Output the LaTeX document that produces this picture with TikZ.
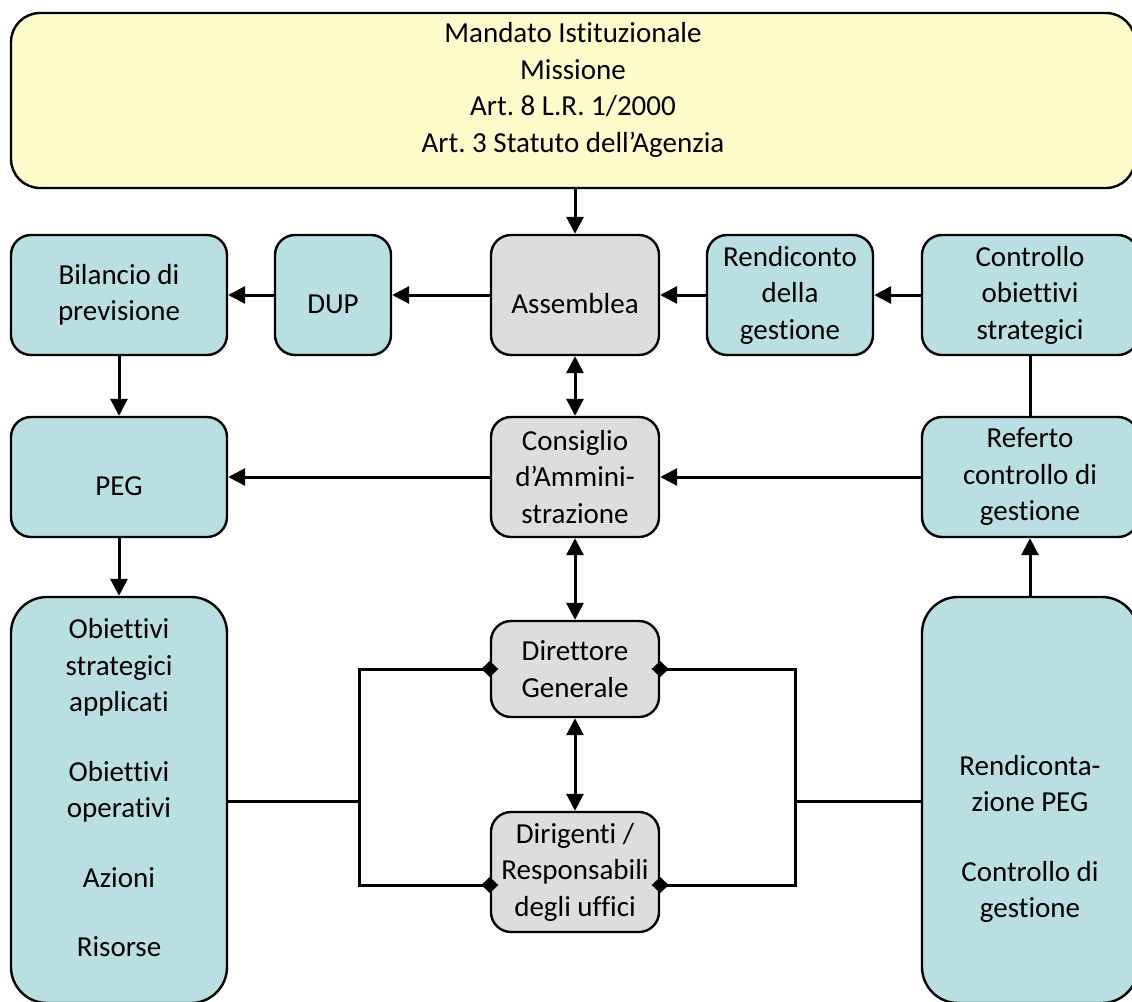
\documentclass[tikz,border=0pt]{standalone}
\usepackage{fontspec}
\setmainfont{Carlito}[Ligatures=CommonOff]
\usetikzlibrary{arrows.meta,calc}
\definecolor{ylw}{RGB}{255,252,204}
\definecolor{tealbg}{RGB}{185,223,227}
\definecolor{gry}{RGB}{221,221,221}
\frenchspacing
\begin{document}
\begin{tikzpicture}[x=1pt,y=-1pt,
  bfont/.style={font=\fontsize{29}{36.5}\selectfont},
  box/.style={draw=black,line width=2.4pt,rounded corners=20pt,align=center,bfont,inner sep=0pt},
  tealbox/.style={box,fill=tealbg},
  graybox/.style={box,fill=gry},
  txt/.style={align=center,bfont,inner sep=0pt},
  ln/.style={line width=3pt},
  arr/.style={ln,-{Triangle[length=17pt,width=17pt]}},
  darr/.style={ln,{Triangle[length=17pt,width=17pt]}-{Triangle[length=17pt,width=17pt]}},
  dia/.style={ln,-{Diamond[length=17pt,width=16pt]},shorten >=-8.5pt}]
\useasboundingbox (0,0) rectangle (1132,1001);
\clip (0,0) rectangle (1132,1001);
\fill[white] (0,0) rectangle (1132,1001);

% boxes
\node[box,fill=ylw,rounded corners=29pt,minimum width=1124pt,minimum height=175pt] (top) at (573,100.5) {};
\node[txt] (toptxt) at (573,90) {Mandato Istituzionale\\Missione\\Art. 8 L.R. 1/2000\\Art. 3 Statuto dell’Agenzia};

\node[tealbox,minimum width=216pt,minimum height=120pt] (bil) at (119,295) {Bilancio di\\previsione};
\node[tealbox,minimum width=116pt,minimum height=120pt] (dup) at (333,295) {\mbox{}\\DUP};
\node[graybox,minimum width=168pt,minimum height=120pt] (ass) at (575,295) {\mbox{}\\Assemblea};
\node[tealbox,minimum width=166pt,minimum height=120pt] (ren) at (790,295) {Rendiconto\\della\\gestione};
\node[tealbox,minimum width=216pt,minimum height=120pt] (con) at (1030,295) {Controllo\\obiettivi\\strategici};

\node[tealbox,minimum width=216pt,minimum height=120pt] (peg) at (119,477) {\mbox{}\\PEG};
\node[graybox,minimum width=168pt,minimum height=120pt] (cda) at (575,477) {Consiglio\\d’Ammini-\\strazione};
\node[tealbox,minimum width=216pt,minimum height=120pt] (ref) at (1030,477) {Referto\\controllo di\\gestione};

\node[tealbox,rounded corners=36pt,minimum width=216pt,minimum height=406pt] (obi) at (119,800) {};
\node[txt] (obitxt) at (119,788) {Obiettivi\\strategici\\applicati\\[33pt]Obiettivi\\operativi\\[33pt]Azioni\\[33pt]Risorse};
\node[tealbox,rounded corners=36pt,minimum width=216pt,minimum height=406pt] (rpeg) at (1030,800) {};
\node[txt] (rpegtxt) at (1030,839) {Rendiconta-\\zione PEG\\[33pt]Controllo di\\gestione};

\node[graybox,minimum width=168pt,minimum height=96pt] (dir) at (575,669) {Direttore\\Generale};
\node[graybox,minimum width=168pt,minimum height=120pt] (dirig) at (575,872) {Dirigenti /\\Responsabili\\degli uffici};

% connectors
\draw[arr] (top.south -| ass.north) -- (ass.north);
\draw[arr] (ass.west) -- (dup.east);
\draw[arr] (dup.west) -- (bil.east);
\draw[arr] (ren.west) -- (ass.east);
\draw[arr] (con.west) -- (ren.east);
\draw[arr] (bil.south) -- (peg.north);
\draw[darr] (ass.south) -- (cda.north);
\draw[arr] (cda.west) -- (peg.east);
\draw[arr] (ref.west) -- (cda.east);
\draw[ln] (con.south) -- (ref.north);
\draw[arr] (peg.south) -- (obi.north);
\draw[darr] (cda.south) -- (dir.north);
\draw[darr] (dir.south) -- (dirig.north);
\draw[arr] (rpeg.north) -- (ref.south);

\coordinate (jl) at (359,801);
\coordinate (jr) at (795,801);
\draw[ln] (obi.east |- jl) -- (jl);
\draw[dia] (jl) |- (dir.west);
\draw[dia] (jl) |- ($(dirig.west)+(0,13)$);
\draw[ln] (rpeg.west |- jr) -- (jr);
\draw[dia] (jr) |- (dir.east);
\draw[dia] (jr) |- ($(dirig.east)+(0,13)$);
\end{tikzpicture}
\end{document}
